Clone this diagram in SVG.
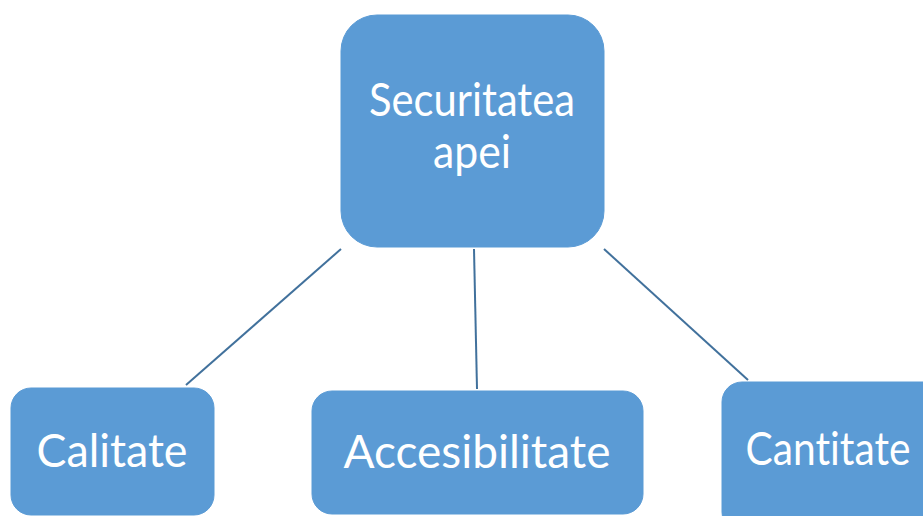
<svg xmlns="http://www.w3.org/2000/svg" width="923" height="516" viewBox="0 0 923 516">
<style>
.box{fill:#5B9BD5;stroke:#5B9BD5;stroke-width:1}
.lbl{font-family:Lato,"Open Sans","Liberation Sans",sans-serif;fill:#fff;font-size:46px;text-anchor:middle;font-variant-ligatures:none;font-feature-settings:"liga" 0,"clig" 0,"dlig" 0}
.conn{stroke:#41719C;stroke-width:2;fill:none}
</style>
<rect width="923" height="516" fill="#fff"/>
<g id="connectors">
<line class="conn" x1="341" y1="249" x2="186" y2="385"/>
<line class="conn" x1="474" y1="249" x2="477" y2="389"/>
<line class="conn" x1="604" y1="249" x2="748" y2="380"/>
</g>
<g id="securitatea">
<rect class="box" x="341" y="15" width="263" height="232" rx="36"/>
<text class="lbl" x="472" y="116" textLength="206" lengthAdjust="spacingAndGlyphs">Securitatea</text>
<text class="lbl" x="472" y="168" textLength="78" lengthAdjust="spacingAndGlyphs">apei</text>
</g>
<g id="calitate">
<rect class="box" x="11" y="388" width="203" height="127" rx="20"/>
<text class="lbl" x="112" y="467" textLength="151" lengthAdjust="spacingAndGlyphs">Calitate</text>
</g>
<g id="accesibilitate">
<rect class="box" x="312" y="391" width="331" height="123" rx="20"/>
<text class="lbl" x="477" y="468" textLength="267" lengthAdjust="spacingAndGlyphs">Accesibilitate</text>
</g>
<g id="cantitate">
<rect class="box" x="722" y="382" width="230" height="150" rx="20"/>
<text class="lbl" x="828" y="465" textLength="165" lengthAdjust="spacingAndGlyphs">Cantitate</text>
</g>
</svg>
